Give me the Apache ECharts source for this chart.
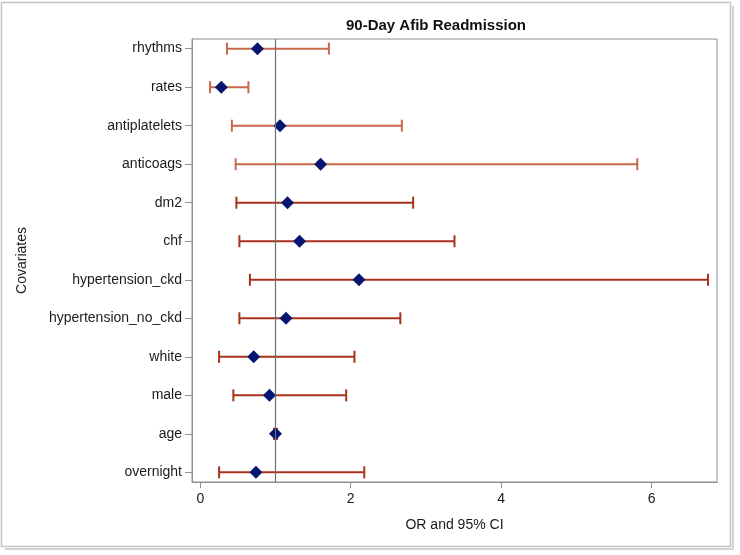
<!DOCTYPE html>
<html>
<head>
<meta charset="utf-8">
<script src="https://cdn.jsdelivr.net/npm/echarts@6/dist/echarts.min.js"></script>
<style>html,body{margin:0;padding:0;background:#fff;}#c{width:740px;height:555px;}</style>
</head>
<body>
<div id="c"></div>
<script>
var covariates = ['rhythms','rates','antiplatelets','anticoags','dm2','chf','hypertension_ckd','hypertension_no_ckd','white','male','age','overnight'];
var oddsRatio = [0.76, 0.28, 1.06, 1.60, 1.16, 1.32, 2.11, 1.14, 0.71, 0.92, 1.00, 0.74];
var lowerCI  = [0.355, 0.13, 0.42, 0.47, 0.48, 0.52, 0.66, 0.52, 0.25, 0.44, 0.98, 0.25];
var upperCI  = [1.71, 0.64, 2.68, 5.81, 2.83, 3.38, 6.75, 2.66, 2.05, 1.94, 1.02, 2.18];
var xTicks = [0, 2, 4, 6];
var barColors = ['#c8694c','#c8694c','#c8694c','#c8694c','#a8321c','#a8321c','#a8321c','#a8321c','#a8321c','#a8321c','#a8321c','#a8321c'];

var idx = covariates.map(function(_, i){ return i; });
var ciData = idx.map(function(i){ return [lowerCI[i], upperCI[i], i]; });
var ptData = idx.map(function(i){ return [oddsRatio[i], i]; });

var chart = echarts.init(document.getElementById('c'), null, {renderer:'canvas'});
var fontFam = 'Liberation Sans, Arial, sans-serif';
chart.setOption({
  animation: false,
  backgroundColor: '#fff',
  title: {
    text: '90-Day Afib Readmission',
    left: 431, top: 13, textAlign: 'center',
    textStyle: {fontFamily: fontFam, fontSize: 15, fontWeight: 'bold', color: '#111'}
  },
  grid: {left: 192, right: 23, top: 39, bottom: 73, show: true, borderColor: '#8a9096', borderWidth: 1, backgroundColor: 'transparent'},
  xAxis: {
    type: 'value', min: -0.11, max: 6.87,
    name: 'OR and 95% CI', nameLocation: 'middle', nameGap: 36,
    nameTextStyle: {fontFamily: fontFam, fontSize: 14, color: '#1a1a1a'},
    axisLine: {show: true, onZero: false, lineStyle: {color: '#8a9096'}},
    axisTick: {show: true, length: 6, customValues: xTicks, lineStyle: {color: '#8a9096'}},
    axisLabel: {customValues: xTicks, margin: 10, fontFamily: fontFam, fontSize: 14, color: '#1a1a1a'},
    splitLine: {show: false}
  },
  yAxis: {
    type: 'value', min: -0.25, max: 11.25, inverse: true,
    name: 'Covariates', nameLocation: 'middle', nameGap: 163, nameRotate: 90,
    nameTextStyle: {fontFamily: fontFam, fontSize: 14, color: '#1a1a1a'},
    axisLine: {show: true, onZero: false, lineStyle: {color: '#8a9096'}},
    axisTick: {show: true, length: 7, customValues: idx, lineStyle: {color: '#8a9096'}},
    axisLabel: {customValues: idx, margin: 10, fontFamily: fontFam, fontSize: 14, color: '#1a1a1a',
      formatter: function(v){ return covariates[Math.round(v)] || ''; }},
    splitLine: {show: false}
  },
  series: [
    {
      type: 'custom',
      data: ciData,
      encode: {x: [0, 1], y: 2},
      renderItem: function(params, api){
        var lo = api.coord([api.value(0), api.value(2)]);
        var hi = api.coord([api.value(1), api.value(2)]);
        var c = barColors[params.dataIndex];
        var h = 6;
        var st = {stroke: c, lineWidth: 2};
        return {type: 'group', children: [
          {type: 'line', shape: {x1: lo[0], y1: lo[1], x2: hi[0], y2: hi[1]}, style: st},
          {type: 'line', shape: {x1: lo[0], y1: lo[1]-h, x2: lo[0], y2: lo[1]+h}, style: st},
          {type: 'line', shape: {x1: hi[0], y1: hi[1]-h, x2: hi[0], y2: hi[1]+h}, style: st}
        ]};
      },
      z: 2
    },
    {
      type: 'scatter',
      data: ptData,
      symbol: 'diamond',
      symbolSize: [13, 13],
      itemStyle: {color: '#061670', opacity: 1},
      z: 4,
      markLine: {
        silent: true, symbol: 'none', label: {show: false},
        lineStyle: {color: '#6a7078', width: 1.2, type: 'solid'},
        data: [{xAxis: 1}]
      }
    }
  ],
  graphic: [
    {type: 'rect', shape: {x: 1.5, y: 2.5, width: 729, height: 544}, style: {fill: 'none', stroke: '#c4c4c4', lineWidth: 1.5}, z: -1},
    {type: 'line', shape: {x1: 733, y1: 6, x2: 733, y2: 549}, style: {stroke: '#c4c4c4', lineWidth: 1.5}, z: -1},
    {type: 'line', shape: {x1: 5, y1: 549, x2: 733, y2: 549}, style: {stroke: '#c4c4c4', lineWidth: 1.5}, z: -1}
  ]
});
</script>
</body>
</html>
